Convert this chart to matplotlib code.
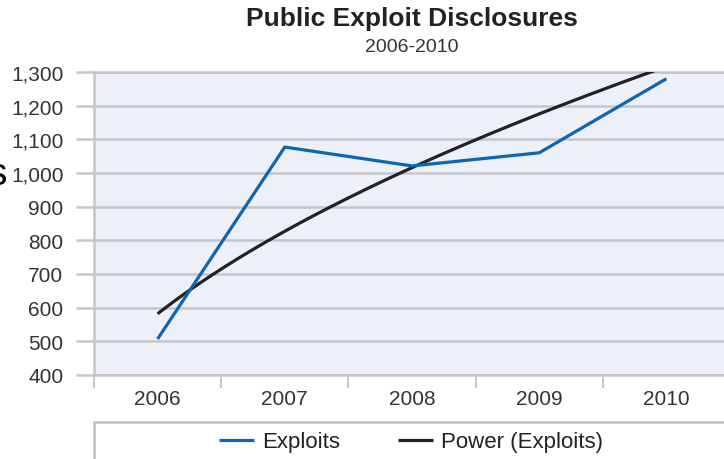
import numpy as np
import matplotlib; matplotlib.use("Agg")
import matplotlib.pyplot as plt
from matplotlib.patches import Rectangle

YEARS = ["2006", "2007", "2008", "2009", "2010"]
EXPLOITS = [507, 1077, 1021, 1060, 1280]
Y_TICKS = [400, 500, 600, 700, 800, 900, 1000, 1100, 1200, 1300]

BLUE = "#0b66b3"
DARK = "#222222"
GRID = "#c6c6ca"
TXT = "#333333"

plt.rcParams["font.family"] = ["Liberation Sans", "DejaVu Sans"]

W, H = 724, 460
fig = plt.figure(figsize=(W / 100, H / 100), dpi=100)
ax = fig.add_axes([94 / W, 1 - 376 / H, 636 / W, 303 / H])
ax.set_facecolor("#edf0f9")

x = np.arange(1, len(YEARS) + 1)
# power trendline: least squares on log-log, like a spreadsheet "Power" fit
b, loga = np.polyfit(np.log(x), np.log(EXPLOITS), 1)
xs = np.linspace(1, len(YEARS), 200)
ax.plot(xs, np.exp(loga) * xs ** b, color=DARK, lw=2.3, label="Power (Exploits)",
        solid_capstyle="butt", zorder=3)
ax.plot(x, EXPLOITS, color=BLUE, lw=2.3, label="Exploits", solid_capstyle="butt", zorder=4)

ax.set_xlim(0.5, len(YEARS) + 0.5)
ax.set_ylim(400, 1300)
ax.set_yticks(Y_TICKS)
ax.set_yticklabels([f"{v:,}" for v in Y_TICKS])
ax.yaxis.grid(True, color=GRID, lw=1.8)
ax.tick_params(axis="y", length=13, width=1.8, color=GRID, pad=9, labelsize=15, labelcolor=TXT)

ax.set_xticks(np.arange(0.5, len(YEARS) + 1))
ax.set_xticklabels([])
ax.set_xticks(x, minor=True)
ax.set_xticklabels(YEARS, minor=True)
ax.tick_params(axis="x", which="major", length=9, width=1.5, color=GRID)
ax.tick_params(axis="x", which="minor", length=0, pad=10, labelsize=15, labelcolor=TXT)
for s in ax.spines.values():
    s.set_color(GRID)
    s.set_linewidth(1.8)
ax.set_axisbelow(True)

fig.text(412 / W, 1 - 19 / H, "Public Exploit Disclosures", ha="center", va="center",
         fontsize=19, fontweight="bold", color=DARK)
fig.text(412 / W, 1 - 47 / H, "2006-2010", ha="center", va="center", fontsize=14, color=TXT)
fig.text(7 / W, 1 - 175 / H, "s", ha="right", va="center", fontsize=28, color="black")

# legend box runs off the bottom and right edges
fig.patches.append(Rectangle((94 / W, -0.05), 0.95, (1 - 423 / H) + 0.05,
                             transform=fig.transFigure, fill=False, ec=GRID, lw=2))
h, l = ax.get_legend_handles_labels()
fig.legend(h[::-1], l[::-1], loc="center", bbox_to_anchor=(411 / W, 1 - 443 / H), ncol=2,
           frameon=False, fontsize=16, handlelength=1.6, columnspacing=2.6, handletextpad=0.35,
           labelcolor=DARK)

fig.savefig("out.png", dpi=100)
